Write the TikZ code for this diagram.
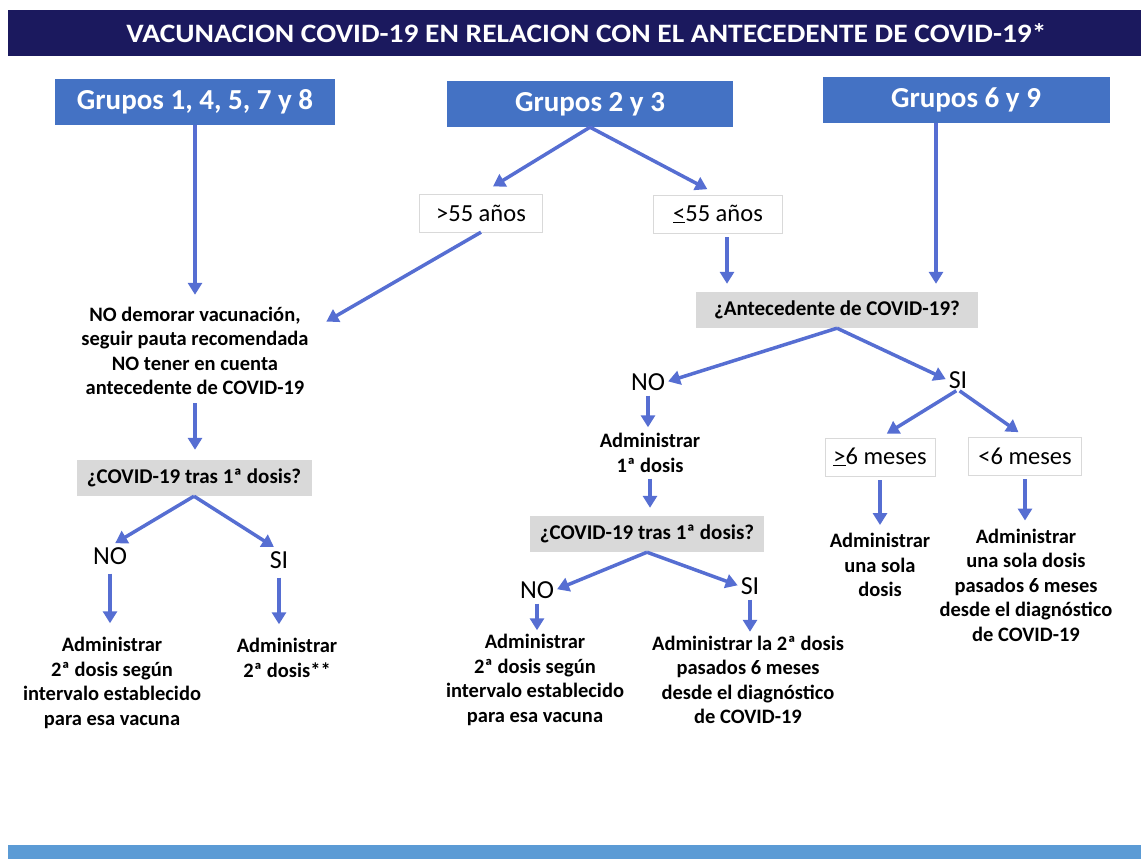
\documentclass[tikz,border=0pt]{standalone}
\usepackage{graphicx}
\usepackage{fontspec}
\setmainfont{Carlito}
\usetikzlibrary{arrows.meta}
\definecolor{navy}{RGB}{27,25,94}
\definecolor{grupoazul}{RGB}{68,114,196}
\definecolor{azulflecha}{RGB}{86,110,210}
\definecolor{pie}{RGB}{91,155,213}
\definecolor{gris}{RGB}{217,217,217}
\tikzstyle{titulo} = [fill=navy, text=white, font=\bfseries, minimum width=1133pt, minimum height=46pt, inner sep=0pt]
\tikzstyle{grupo} = [fill=grupoazul, text=white, font=\bfseries\fontsize{29}{34}\selectfont, minimum height=46pt, inner sep=0pt]
\tikzstyle{edad} = [draw=black!15, fill=white, font=\fontsize{24.5}{28}\selectfont, minimum height=38pt, inner sep=0pt]
\tikzstyle{pregunta} = [fill=gris, font=\bfseries\fontsize{21}{25}\selectfont, minimum height=36pt, inner sep=0pt]
\tikzstyle{texto} = [align=center, font=\bfseries\fontsize{20.5}{24.5}\selectfont, inner sep=2pt]
\tikzstyle{resp} = [font=\fontsize{26}{30}\selectfont, inner sep=1pt]
\tikzstyle{flec} = [draw=azulflecha, line width=3.5pt, -{Triangle[length=12pt,width=14pt]}]

\begin{document}
\begin{tikzpicture}[x=1pt,y=-1pt]
    \useasboundingbox (0,0) rectangle (1141,859);
    \node[titulo](titulo) at (574.5,33){\hspace{24pt}\resizebox{920pt}{19pt}{VACUNACION COVID-19 EN RELACION CON EL ANTECEDENTE DE COVID-19*}};
    \fill[pie] (8,845) rectangle (1141,859);
    \node[grupo,minimum width=280pt](g1) at (195,102){Grupos 1, 4, 5, 7 y 8};
    \node[grupo,minimum width=286pt](g23) at (590,104){Grupos 2 y 3};
    \node[grupo,minimum width=287pt](g69) at (966,100){Grupos 6 y 9};
    \node[edad,minimum width=123pt](m55) at (481,213){>55 años};
    \node[edad,minimum width=129pt](l55) at (718,214){\underline{<}55 años};
    \node[texto](demorar) at (195,351){NO demorar vacunación,\\seguir pauta recomendada\\NO tener en cuenta\\antecedente de COVID-19};
    \node[pregunta,minimum width=235pt](preg1) at (194,478){¿COVID-19 tras 1ª dosis?};
    \node[resp](no1) at (110,556){NO};
    \node[resp](si1) at (279,560){SI};
    \node[texto](adm1) at (112,683){Administrar\\2ª dosis según\\intervalo establecido\\para esa vacuna};
    \node[texto](adm2) at (287,658){Administrar\\2ª dosis**};
    \node[pregunta,minimum width=282pt](ante) at (837,310){¿Antecedente de COVID-19?};
    \node[resp](no2) at (648,382){NO};
    \node[resp](si2) at (958,380){SI};
    \node[texto](adm3) at (650,453){Administrar\\1ª dosis};
    \node[pregunta,minimum width=234pt](preg2) at (647,534){¿COVID-19 tras 1ª dosis?};
    \node[resp](no3) at (537,590){NO};
    \node[resp](si3) at (750,586){SI};
    \node[texto](adm4) at (535,680){Administrar\\2ª dosis según\\intervalo establecido\\para esa vacuna};
    \node[texto](adm5) at (748,680){Administrar la 2ª dosis\\pasados 6 meses\\desde el diagnóstico\\de COVID-19};
    \node[edad,minimum width=110pt](may6) at (880,457){\underline{>}6 meses};
    \node[edad,minimum width=113pt](men6) at (1025,456){<6 meses};
    \node[texto](adm6) at (880,565){Administrar\\una sola\\dosis};
    \node[texto](adm7) at (1026,585){Administrar\\una sola dosis\\pasados 6 meses\\desde el diagnóstico\\de COVID-19};
    \draw[flec,shorten >=10pt](g1.south)--(g1.south |- demorar.north);
    \draw[flec,shorten >=14pt](g23.south)--(m55.north);
    \draw[flec,shorten >=12pt](g23.south)--(l55.north);
    \draw[flec,shorten >=18pt](m55.south)--(demorar.10);
    \draw[flec,shorten <=4pt,shorten >=8pt]([xshift=9pt]l55.south)--([xshift=9pt]l55.south |- ante.north);
    \draw[flec,shorten >=8pt]([xshift=-30pt]g69.south)--([xshift=-30pt]g69.south |- ante.north);
    \draw[flec,shorten >=2pt](ante.south)--(no2.east);
    \draw[flec,shorten >=2pt](ante.south)--(si2.west);
    \draw[flec,shorten <=4pt,shorten >=4pt](no2.south)--(no2.south |- adm3.north);
    \draw[flec,shorten <=4pt,shorten >=8pt](adm3.south)--(adm3.south |- preg2.north);
    \draw[flec,shorten >=2pt](preg2.south)--(no3.east);
    \draw[flec,shorten >=2pt](preg2.south)--(si3.west);
    \draw[flec,shorten <=4pt,shorten >=2pt](no3.south)--(no3.south |- adm4.north);
    \draw[flec,shorten <=4pt,shorten >=2pt](si3.south)--(si3.south |- adm5.north);
    \draw[flec,shorten <=2pt,shorten >=8pt](si2.south)--(may6.north);
    \draw[flec,shorten <=2pt,shorten >=8pt](si2.south)--(men6.north);
    \draw[flec,shorten <=4pt,shorten >=6pt](may6.south)--(may6.south |- adm6.north);
    \draw[flec,shorten <=4pt,shorten >=6pt](men6.south)--(men6.south |- adm7.north);
    \draw[flec,shorten <=6pt,shorten >=10pt](demorar.south)--(demorar.south |- preg1.north);
    \draw[flec,shorten >=6pt](preg1.south)--(no1.north);
    \draw[flec,shorten >=6pt](preg1.south)--(si1.north);
    \draw[flec,shorten <=8pt,shorten >=12pt](no1.south)--(no1.south |- adm1.north);
    \draw[flec,shorten <=8pt,shorten >=12pt](si1.south)--(si1.south |- adm2.north);
  \end{tikzpicture}
\end{document}
